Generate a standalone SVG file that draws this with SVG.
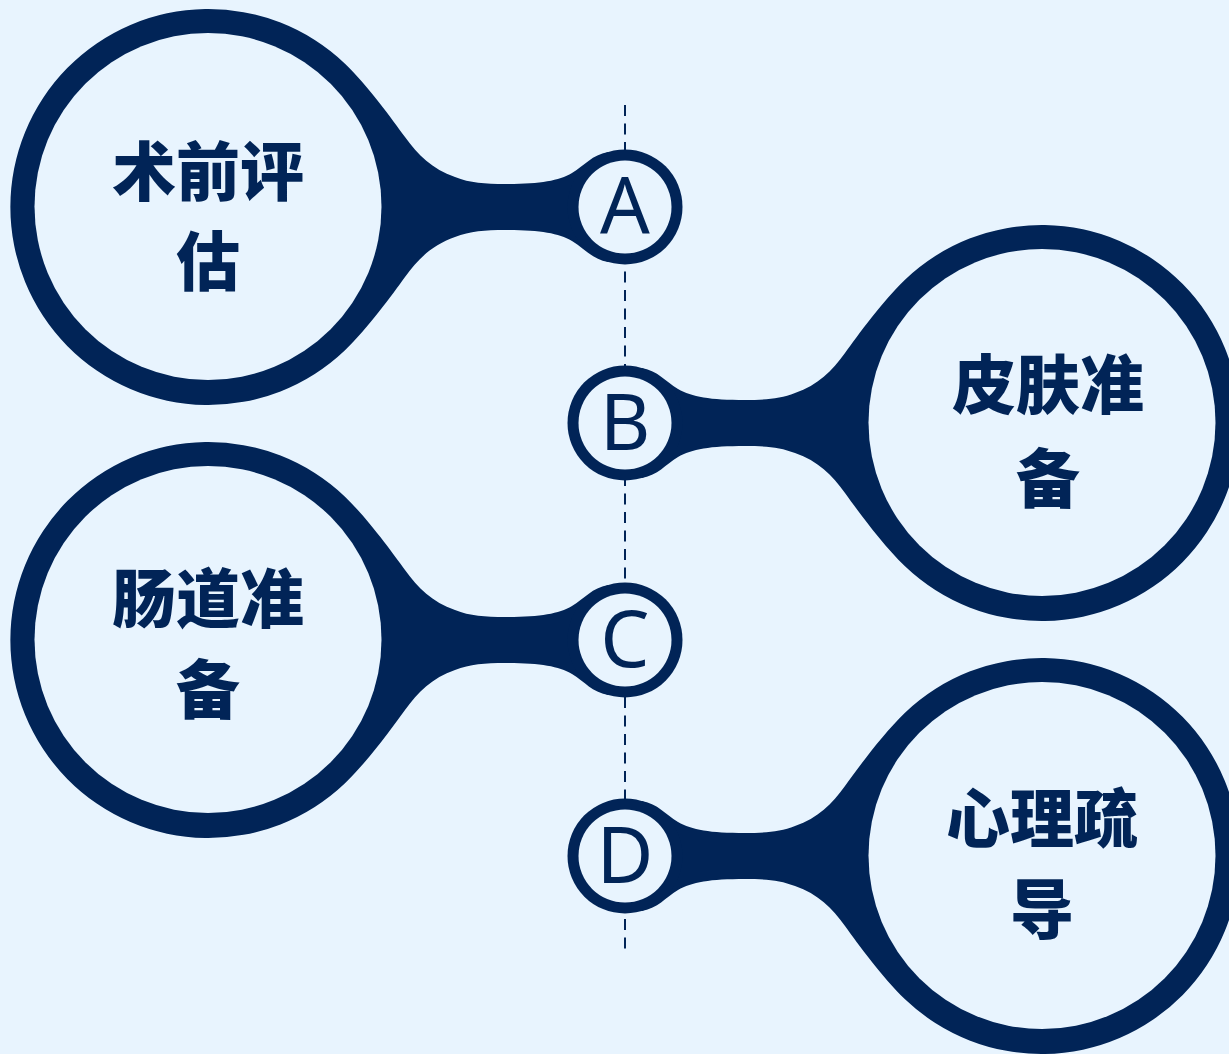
<svg xmlns="http://www.w3.org/2000/svg" xmlns:xlink="http://www.w3.org/1999/xlink" width="1229" height="1054" viewBox="0 0 1229 1054">
  <style>
    .dark { fill: #012457; }
    .hole { fill: #E8F4FE; }
    .cn { font-family: "Noto Sans CJK SC", "Noto Sans", sans-serif; font-weight: 900; font-size: 64px; fill: #012457; text-anchor: middle; }
    .letter { font-family: "Noto Sans", "Open Sans", sans-serif; font-weight: 400; font-size: 78px; fill: #012457; text-anchor: middle; }
    .axis { stroke: #012457; stroke-width: 2; stroke-dasharray: 11 7.5; fill: none; }
  </style>
  <defs>
    <g id="petal">
      <path class="dark" d="M 345,-143.3 C 368,-121 392,-88 405,-70 C 418,-52 432,-38 455,-30 C 470,-24 485,-23 505,-23 C 540,-23 558,-26 572,-34 C 585,-42 592,-52 608,-55 L 608,55 C 592,52 585,42 572,34 C 558,26 540,23 505,23 C 485,23 470,24 455,30 C 432,38 418,52 405,70 C 392,88 368,121 345,143.3 A 198 198 0 1 1 345,-143.3 Z"/>
      <circle class="dark" cx="625" cy="0" r="57.5"/>
      <circle class="hole" cx="208" cy="-0.5" r="173.5"/>
      <circle class="hole" cx="625" cy="0" r="46.5"/>
    </g>
  </defs>
  <rect x="0" y="0" width="1229" height="1054" fill="#E8F4FE"/>
  <g id="connectors">
    <line class="axis" x1="625" y1="105" x2="625" y2="956"/>
  </g>
  <g id="node-a">
    <use xlink:href="#petal" transform="translate(0,207)"/>
    <text class="cn" x="208" y="195">术前评</text>
    <text class="cn" x="208" y="285">估</text>
    <text class="letter" x="625" y="233">A</text>
  </g>
  <g id="node-b">
    <use xlink:href="#petal" transform="translate(1250,423) scale(-1,1)"/>
    <text class="cn" x="1048" y="408">皮肤准</text>
    <text class="cn" x="1048" y="502">备</text>
    <text class="letter" x="625" y="450">B</text>
  </g>
  <g id="node-c">
    <use xlink:href="#petal" transform="translate(0,640)"/>
    <text class="cn" x="208" y="622">肠道准</text>
    <text class="cn" x="208" y="713">备</text>
    <text class="letter" x="625" y="667">C</text>
  </g>
  <g id="node-d">
    <use xlink:href="#petal" transform="translate(1250,856) scale(-1,1)"/>
    <text class="cn" x="1042" y="842">心理疏</text>
    <text class="cn" x="1042" y="933">导</text>
    <text class="letter" x="625" y="883">D</text>
  </g>
</svg>
